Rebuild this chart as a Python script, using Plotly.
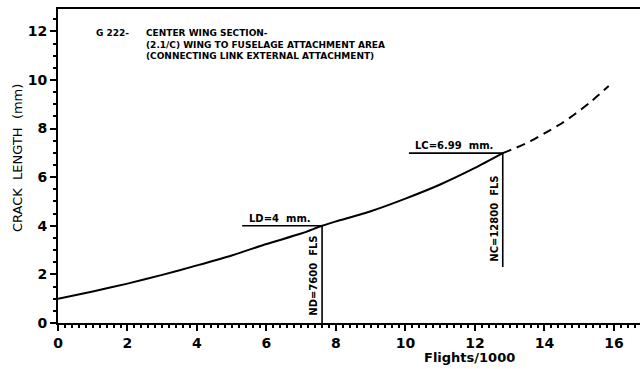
import plotly.graph_objects as go

# Crack growth curve (Flights/1000 vs crack length in mm)
flights_solid = [0, 1, 2, 3, 4, 5, 6, 7, 7.6, 8, 9, 10, 11, 12, 12.8]
crack_solid = [1.0, 1.3, 1.62, 1.98, 2.37, 2.78, 3.25, 3.68, 4.0, 4.18, 4.6, 5.12, 5.7, 6.38, 6.99]

# Extrapolated part (dashed)
flights_dash = [12.8, 13.2, 13.6, 14.0, 14.5, 14.9, 15.3, 15.85]
crack_dash = [6.99, 7.22, 7.48, 7.8, 8.22, 8.62, 9.06, 9.75]

# Detectable (D) and critical (C) crack points
ld_value, nd_value = 4.0, 7.6
lc_value, nc_value = 6.99, 12.8
ld_start, lc_start = 5.3, 10.1
nc_bottom = 2.3

# Header lines
header_id = "G 222-"
header_lines = [
    "CENTER WING SECTION-",
    "(2.1/C) WING TO FUSELAGE ATTACHMENT AREA",
    "(CONNECTING LINK EXTERNAL ATTACHMENT)",
]

black = "#000000"
font_bold = "DejaVu Sans"

W, H = 640, 369
L, R, T, B = 58, 0, 9, 46
pw, ph = W - L - R, H - T - B


def px_to_paper(px, py):
    return (px - L) / pw, (H - B - py) / ph


fig = go.Figure()
fig.add_trace(go.Scatter(x=flights_solid, y=crack_solid, mode="lines",
                         line=dict(color=black, width=2, shape="spline", smoothing=0.6),
                         showlegend=False))
fig.add_trace(go.Scatter(x=flights_dash, y=crack_dash, mode="lines",
                         line=dict(color=black, width=2, dash="9px,6px",
                                   shape="spline", smoothing=0.6),
                         showlegend=False))

# Reference lines for LD/ND and LC/NC
fig.add_trace(go.Scatter(x=[ld_start, nd_value, nd_value], y=[ld_value, ld_value, 0],
                         mode="lines", line=dict(color=black, width=1.6), showlegend=False))
fig.add_trace(go.Scatter(x=[lc_start, nc_value, nc_value], y=[lc_value, lc_value, nc_bottom],
                         mode="lines", line=dict(color=black, width=1.6), showlegend=False))

small = dict(size=10, family=font_bold)
annotations = [
    dict(x=6.4, y=ld_value, xref="x", yref="y", text="<b>LD=4  mm.</b>",
         showarrow=False, yanchor="bottom", font=small),
    dict(x=11.4, y=lc_value, xref="x", yref="y", text="<b>LC=6.99  mm.</b>",
         showarrow=False, yanchor="bottom", font=small),
    dict(x=nd_value, y=0.2, xref="x", yref="y", text="<b>ND=7600  FLS</b>",
         showarrow=False, textangle=-90, xanchor="right", yanchor="bottom",
         xshift=-1, font=small),
    dict(x=nc_value, y=nc_bottom + 0.15, xref="x", yref="y", text="<b>NC=12800  FLS</b>",
         showarrow=False, textangle=-90, xanchor="right", yanchor="bottom",
         xshift=-1, font=small),
]

# Header block: id, then the three description lines in one text block
header_font = dict(size=9, family=font_bold)
hx, hy = px_to_paper(95, 33)
annotations.append(dict(x=hx, y=hy, xref="paper", yref="paper", text="<b>%s</b>" % header_id,
                        showarrow=False, xanchor="left", yanchor="middle",
                        borderpad=0, font=header_font))
bx, by = px_to_paper(145, 26.5)
annotations.append(dict(x=bx, y=by, xref="paper", yref="paper",
                        text="<br>".join("<b>%s</b>" % s for s in header_lines),
                        showarrow=False, xanchor="left", yanchor="top", align="left",
                        borderpad=0, font=header_font))

# Axis titles
tx, ty = px_to_paper(469, 357)
annotations.append(dict(x=tx, y=ty, xref="paper", yref="paper", text="<b>Flights/1000</b>",
                        showarrow=False, xanchor="center", yanchor="middle",
                        font=dict(size=13, family=font_bold)))
yx, yy = px_to_paper(17, 158)
annotations.append(dict(x=yx, y=yy, xref="paper", yref="paper", text="CRACK  LENGTH  (mm)",
                        showarrow=False, xanchor="center", yanchor="middle", textangle=-90,
                        font=dict(size=13, family=font_bold)))

fig.update_layout(
    width=W, height=H,
    margin=dict(l=L, r=R, t=T, b=B),
    plot_bgcolor="white", paper_bgcolor="white",
    font=dict(family=font_bold, color=black),
    annotations=annotations,
    xaxis=dict(range=[0, 16.75], showgrid=False, zeroline=False,
               showline=True, linecolor=black, linewidth=2, mirror=True,
               ticks="outside", ticklen=6, tickwidth=2, tickcolor=black,
               dtick=2, tick0=0,
               minor=dict(dtick=0.2, ticks="outside", ticklen=3, tickwidth=1.5, tickcolor=black),
               tickfont=dict(size=14, family=font_bold),
               tickprefix="<b>", ticksuffix="</b>"),
    yaxis=dict(range=[0, 12.92], showgrid=False, zeroline=False,
               showline=True, linecolor=black, linewidth=2,
               ticks="outside", ticklen=6, tickwidth=2, tickcolor=black,
               dtick=2, tick0=0,
               minor=dict(dtick=0.5, ticks="outside", ticklen=3, tickwidth=1.5, tickcolor=black),
               tickfont=dict(size=14, family=font_bold),
               tickprefix="<b>", ticksuffix="</b>"),
)

fig.write_html("out.html")
